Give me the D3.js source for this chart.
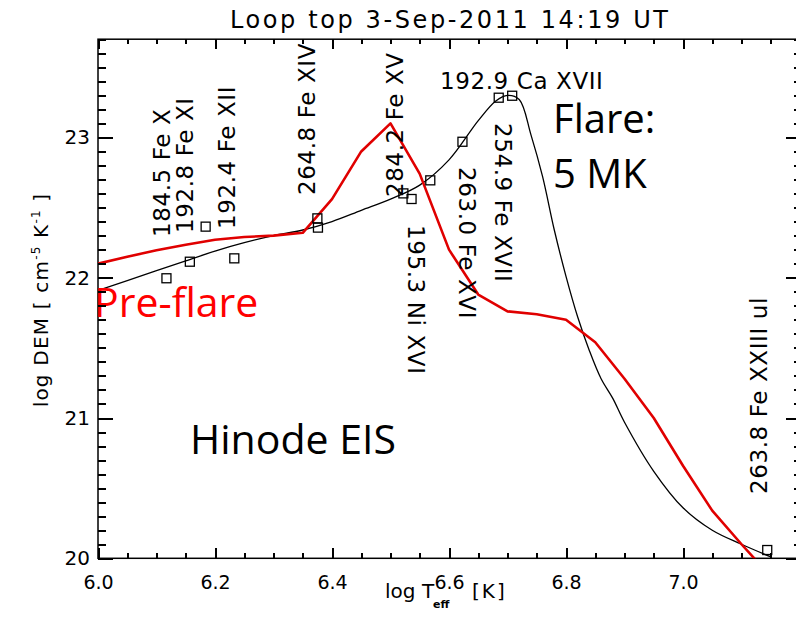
<!DOCTYPE html>
<html>
<head>
<meta charset="utf-8">
<script src="https://cdn.jsdelivr.net/npm/d3@7"></script>
<style>
  body { margin: 0; background: #fff; }
  svg { display: block; }
  .idl { font-family: "DejaVu Sans", sans-serif; fill: #000; }
  .big { font-family: "Open Sans", sans-serif; }
  .tick line { stroke: #000; stroke-width: 2px; shape-rendering: crispEdges; }
</style>
</head>
<body>
<svg width="796" height="627"></svg>
<script>
// DEM model (flare, smooth curve)
const demT = [6.00, 6.05, 6.10, 6.15, 6.20, 6.25, 6.30, 6.35, 6.40, 6.45, 6.50, 6.55, 6.60, 6.65, 6.68, 6.70,
              6.72, 6.74, 6.76, 6.78, 6.80, 6.82, 6.84, 6.86, 6.88, 6.90, 6.95, 7.00, 7.05, 7.10, 7.15];
const demFlare = [21.91, 21.98, 22.05, 22.12, 22.19, 22.25, 22.30, 22.34, 22.40, 22.48, 22.56, 22.66, 22.84, 23.12, 23.26, 23.30,
                  23.27, 23.02, 22.72, 22.34, 22.01, 21.72, 21.48, 21.28, 21.14, 20.97, 20.62, 20.36, 20.20, 20.10, 20.01];

// pre-flare DEM (red polyline)
const preT = [6.00, 6.05, 6.10, 6.15, 6.20, 6.25, 6.30, 6.35, 6.40, 6.45, 6.50, 6.55,
              6.60, 6.65, 6.70, 6.75, 6.80, 6.85, 6.90, 6.95, 7.00, 7.05, 7.10, 7.15];
const demPre = [22.10, 22.15, 22.195, 22.235, 22.27, 22.29, 22.30, 22.32, 22.56, 22.90, 23.10, 22.74,
                22.20, 21.88, 21.76, 21.74, 21.70, 21.54, 21.28, 21.00, 20.66, 20.34, 20.10, 19.87];

// observed points (squares)
const obsT = [6.117, 6.157, 6.184, 6.233, 6.375, 6.376, 6.522, 6.536, 6.568, 6.623, 6.685, 6.708, 7.144];
const obsDEM = [21.996, 22.114, 22.364, 22.138, 22.423, 22.357, 22.601, 22.561, 22.694, 22.969, 23.283, 23.297, 20.059];

const xMajor = [6.0, 6.2, 6.4, 6.6, 6.8, 7.0];
const yMajor = [20, 21, 22, 23];

const svg = d3.select("svg");

const x = d3.scaleLinear().domain([6.0, 7.2]).range([98, 800]);
const y = d3.scaleLinear().domain([20, 23.7]).range([558.3, 39.2]);

const xMinor = d3.range(0, 25).map(i => 6 + i * 0.05).filter(v => Math.abs(v * 5 - Math.round(v * 5)) > 1e-6);
const yMinor = d3.range(0, 38).map(i => 20 + i * 0.1).filter(v => Math.abs(v - Math.round(v)) > 1e-6);

const pTop = y.range()[1], pBottom = y.range()[0], pLeft = x.range()[0], pRight = x.range()[1];

// clip for the curves
svg.append("clipPath").attr("id", "plot")
  .append("rect")
    .attr("x", pLeft).attr("y", pTop)
    .attr("width", pRight - pLeft).attr("height", pBottom - pTop);

// frame
svg.append("rect")
    .attr("x", pLeft).attr("y", pTop)
    .attr("width", pRight - pLeft).attr("height", pBottom - pTop)
    .attr("fill", "none").attr("stroke", "#000").attr("stroke-width", 1.5);

// flare DEM curve
const flareLine = d3.line()
    .x(d => x(d[0])).y(d => y(d[1]))
    .curve(d3.curveCatmullRom.alpha(0.5));
svg.append("path")
    .datum(d3.zip(demT, demFlare))
    .attr("clip-path", "url(#plot)")
    .attr("fill", "none")
    .attr("stroke", "#000")
    .attr("stroke-width", 1.3)
    .attr("d", flareLine);

// pre-flare curve
const preLine = d3.line().x(d => x(d[0])).y(d => y(d[1]));
svg.append("path")
    .datum(d3.zip(preT, demPre))
    .attr("clip-path", "url(#plot)")
    .attr("fill", "none")
    .attr("stroke", "#e00000")
    .attr("stroke-width", 2.6)
    .attr("stroke-linejoin", "round")
    .attr("d", preLine);

// squares
const sq = 9;
svg.append("g")
  .selectAll("rect")
  .data(d3.zip(obsT, obsDEM))
  .join("rect")
    .attr("x", d => x(d[0]) - sq / 2)
    .attr("y", d => y(d[1]) - sq / 2)
    .attr("width", sq).attr("height", sq)
    .attr("fill", "none")
    .attr("stroke", "#000")
    .attr("stroke-width", 1.3);

// line labels: [text, x, y, rotation]
const lineLabels = [
  ["184.5 Fe X", 170, 237, -90],
  ["192.8 Fe XI", 193, 233, -90],
  ["192.4 Fe XII", 235, 229, -90],
  ["264.8 Fe XIV", 315, 195, -90],
  ["284.2 Fe XV", 403, 197, -90],
  ["195.3 Ni XVI", 408, 225, 90],
  ["263.0 Fe XVI", 459, 167, 90],
  ["254.9 Fe XVII", 495, 123, 90],
  ["263.8 Fe XXIII ul", 767, 494, -90]
];
svg.append("g")
  .selectAll("text")
  .data(lineLabels)
  .join("text")
    .attr("class", "idl")
    .attr("transform", d => `translate(${d[1]},${d[2]}) rotate(${d[3]})`)
    .style("font-size", "23px")
    .style("letter-spacing", "0.6px")
    .text(d => d[0]);

svg.append("text")
    .attr("class", "idl")
    .attr("x", 440).attr("y", 89)
    .style("font-size", "23px")
    .style("letter-spacing", "0.6px")
    .text("192.9 Ca XVII");

// title
svg.append("text")
    .attr("class", "idl")
    .attr("x", 230).attr("y", 28)
    .attr("textLength", 438)
    .attr("lengthAdjust", "spacing")
    .style("font-size", "24px")
    .text("Loop top 3-Sep-2011 14:19 UT");

// x axis title
const xt = svg.append("text")
    .attr("class", "idl")
    .attr("y", 598)
    .style("font-size", "20px");
xt.append("tspan").attr("x", 385).text("log");
xt.append("tspan").attr("x", 422).text("T");
xt.append("tspan").attr("x", 433).attr("dy", 10).style("font-size", "11px").style("font-weight", "bold").text("eff");
xt.append("tspan").attr("x", 472).attr("dy", -10).style("letter-spacing", "2px").text("[K]");

// y axis title
const yt = svg.append("text")
    .attr("class", "idl")
    .attr("transform", "translate(48,300) rotate(-90)")
    .attr("text-anchor", "middle")
    .style("font-size", "20px")
    .style("letter-spacing", "1.2px");
yt.append("tspan").text("log DEM [ cm");
yt.append("tspan").attr("dy", -8).style("font-size", "12px").text("-5");
yt.append("tspan").attr("dy", 8).text(" K");
yt.append("tspan").attr("dy", -8).style("font-size", "12px").text("-1");
yt.append("tspan").attr("dy", 8).text(" ]");

// big annotations
svg.append("text").attr("class", "big").attr("x", 553).attr("y", 133)
    .style("font-size", "40px").attr("fill", "#000").text("Flare:");
svg.append("text").attr("class", "big").attr("x", 553).attr("y", 188)
    .style("font-size", "40px").attr("fill", "#000").text("5 MK");
svg.append("text").attr("class", "big").attr("x", 94).attr("y", 317)
    .style("font-size", "41px").attr("fill", "#ff0000").text("Pre-flare");
svg.append("text").attr("class", "big").attr("x", 190).attr("y", 454)
    .style("font-size", "41px").attr("fill", "#000").text("Hinode EIS");

// axes, drawn last so the ticks sit on top
function styleAxis(g) {
  g.select(".domain").remove();
  g.selectAll("text").attr("class", "idl");
}

function addAxis(axis, tx, ty, fontSize) {
  const g = svg.append("g")
      .attr("transform", `translate(${tx},${ty})`)
      .call(axis)
      .call(styleAxis);
  if (fontSize) g.selectAll("text").style("font-size", fontSize);
  return g;
}

const none = () => "";
addAxis(d3.axisBottom(x).tickValues(xMajor).tickSizeInner(-10).tickSizeOuter(0)
  .tickPadding(17).tickFormat(d3.format(".1f")), 0, pBottom, "19px");
addAxis(d3.axisBottom(x).tickValues(xMinor).tickSizeInner(-5).tickSizeOuter(0).tickFormat(none), 0, pBottom);
addAxis(d3.axisTop(x).tickValues(xMajor).tickSizeInner(-10).tickSizeOuter(0).tickFormat(none), 0, pTop);
addAxis(d3.axisTop(x).tickValues(xMinor).tickSizeInner(-5).tickSizeOuter(0).tickFormat(none), 0, pTop);
addAxis(d3.axisLeft(y).tickValues(yMajor).tickSizeInner(-15).tickSizeOuter(0)
  .tickPadding(8).tickFormat(d3.format("d")), pLeft, 0, "20px");
addAxis(d3.axisLeft(y).tickValues(yMinor).tickSizeInner(-8).tickSizeOuter(0).tickFormat(none), pLeft, 0);
addAxis(d3.axisRight(y).tickValues(yMajor).tickSizeInner(-14).tickSizeOuter(0).tickFormat(none), pRight, 0);
addAxis(d3.axisRight(y).tickValues(yMinor).tickSizeInner(-6).tickSizeOuter(0).tickFormat(none), pRight, 0);
</script>
</body>
</html>
